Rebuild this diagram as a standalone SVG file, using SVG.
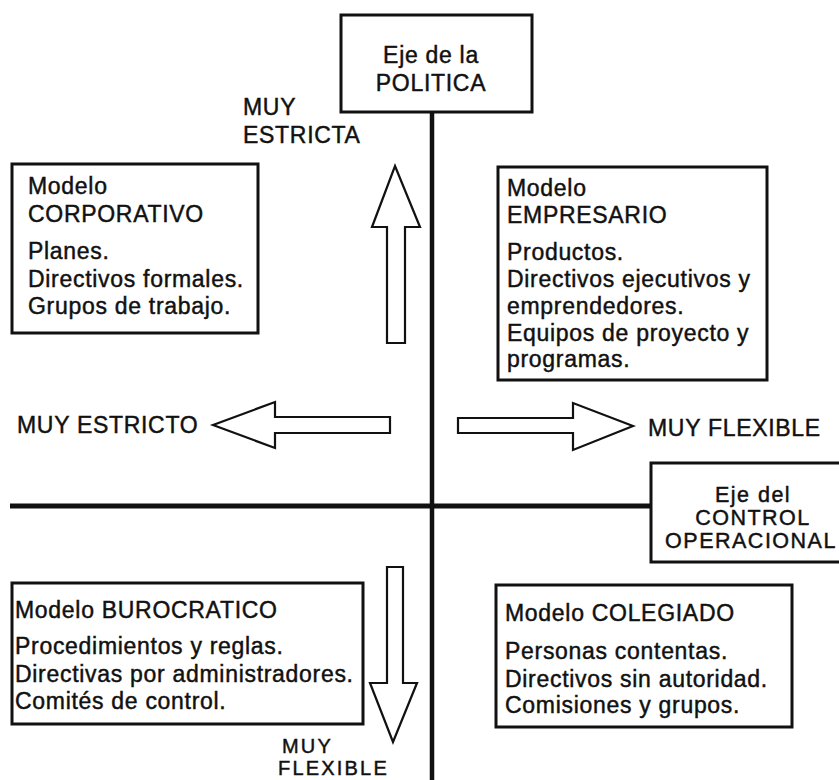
<svg xmlns="http://www.w3.org/2000/svg" width="839" height="780" viewBox="0 0 839 780">
<style>
text{font-family:"Liberation Sans",Arial,Helvetica,sans-serif;font-size:23px;fill:#111;stroke:#111;stroke-width:0.45px;letter-spacing:0.7px}
.tight{font-size:21.5px;letter-spacing:1.5px}
.small{font-size:20px;letter-spacing:2.2px}
.box{fill:#fff;stroke:#111;stroke-width:3}
.arrow{fill:#fff;stroke:#111;stroke-width:2.2;stroke-linejoin:miter}
.axis{stroke:#111;fill:none}
.c{text-anchor:middle}
</style>
<rect width="839" height="780" fill="#fff"/>
<g id="connectors">
<line class="axis" x1="432" y1="112" x2="432" y2="780" stroke-width="4.5"/>
<line class="axis" x1="10" y1="506" x2="652" y2="506" stroke-width="5"/>
<polygon class="arrow" points="395,166 420,227 405,227 405,343 387,343 387,227 372,227"/>
<polygon class="arrow" points="213,425 275,402 275,417 390,417 390,433 275,433 275,448"/>
<polygon class="arrow" points="633,426 573,403 573,418 458,418 458,433 573,433 573,450"/>
<polygon class="arrow" points="393,742 417,683 403,683 403,567 387,567 387,683 370,683"/>
</g>
<g id="eje-politica">
<rect class="box" x="341" y="15" width="191" height="97"/>
<text class="c" x="431" y="63">Eje de la</text>
<text class="c" x="431" y="91">POLITICA</text>
</g>
<g id="eje-control">
<rect class="box" x="651" y="463" width="200" height="99"/>
<text class="c tight" x="753" y="502">Eje del</text>
<text class="c tight" x="753" y="525">CONTROL</text>
<text class="c tight" x="751" y="548">OPERACIONAL</text>
</g>
<g id="muy-estricta">
<text x="243" y="115">MUY</text>
<text x="243" y="143">ESTRICTA</text>
</g>
<g id="muy-estricto">
<text x="17" y="433">MUY ESTRICTO</text>
</g>
<g id="muy-flexible-h">
<text x="648" y="436">MUY FLEXIBLE</text>
</g>
<g id="muy-flexible-v">
<text class="small" x="282" y="753">MUY</text>
<text class="small" x="278" y="775">FLEXIBLE</text>
</g>
<g id="corporativo">
<rect class="box" x="12" y="164" width="246" height="169"/>
<text x="28" y="194">Modelo</text>
<text x="28" y="222">CORPORATIVO</text>
<text x="28" y="259">Planes.</text>
<text x="28" y="287">Directivos formales.</text>
<text x="28" y="314">Grupos de trabajo.</text>
</g>
<g id="empresario">
<rect class="box" x="498" y="167" width="269" height="213"/>
<text x="507" y="196">Modelo</text>
<text x="507" y="223">EMPRESARIO</text>
<text x="507" y="260">Productos.</text>
<text x="507" y="287">Directivos ejecutivos y</text>
<text x="507" y="314">emprendedores.</text>
<text x="507" y="341">Equipos de proyecto y</text>
<text x="507" y="367">programas.</text>
</g>
<g id="burocratico">
<rect class="box" x="12" y="583" width="351" height="141"/>
<text x="15" y="618">Modelo BUROCRATICO</text>
<text x="15" y="654">Procedimientos y reglas.</text>
<text x="15" y="682">Directivas por administradores.</text>
<text x="15" y="709">Comités de control.</text>
</g>
<g id="colegiado">
<rect class="box" x="496" y="585" width="296" height="142"/>
<text x="505" y="621">Modelo COLEGIADO</text>
<text x="505" y="659">Personas contentas.</text>
<text x="505" y="687">Directivos sin autoridad.</text>
<text x="505" y="713">Comisiones y grupos.</text>
</g>
</svg>
